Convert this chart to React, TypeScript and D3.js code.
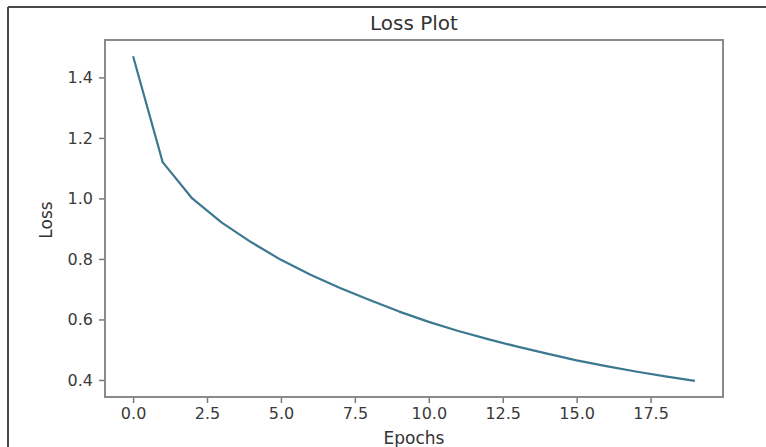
import React, { useEffect, useRef } from 'react';
import * as d3 from 'd3';

// loss per epoch
const epochs = [0, 1, 2, 3, 4, 5, 6, 7, 8, 9, 10, 11, 12, 13, 14, 15, 16, 17, 18, 19];
const losses = [1.47, 1.12, 1.0, 0.92, 0.855, 0.797, 0.748, 0.704, 0.664, 0.626, 0.592, 0.562, 0.535, 0.51, 0.487, 0.465, 0.446, 0.428, 0.412, 0.397];
const xTicks = [0, 2.5, 5, 7.5, 10, 12.5, 15, 17.5];
const yTicks = [0.4, 0.6, 0.8, 1.0, 1.2, 1.4];

const W = 766;
const H = 447;
const box = { left: 105, top: 40, right: 723, bottom: 397 };
const font = '"DejaVu Sans", sans-serif';

export default function App() {
  const ref = useRef<SVGSVGElement>(null);

  useEffect(() => {
    const svg = d3.select(ref.current);
    svg.selectAll('*').remove();

    // outer frame (top and left edges only visible)
    svg.append('line').attr('x1', 8).attr('x2', W).attr('y1', 7).attr('y2', 7)
      .attr('stroke', '#4a4a4a').attr('stroke-width', 2);
    svg.append('line').attr('x1', 8).attr('x2', 8).attr('y1', 7).attr('y2', H)
      .attr('stroke', '#4a4a4a').attr('stroke-width', 2);

    let x = d3.scaleLinear().domain([-0.95, 19.95]).range([box.left, box.right]);
    let y = d3.scaleLinear().domain([0.3437, 1.5237]).range([box.bottom, box.top]);

    let xAxis = d3.axisBottom(x).tickValues(xTicks).tickSize(6).tickPadding(5)
      .tickFormat(d3.format('.1f'));
    let yAxis = d3.axisLeft(y).tickValues(yTicks).tickSize(6).tickPadding(6)
      .tickFormat(d3.format('.1f'));

    let gx = svg.append('g')
      .attr('transform', 'translate(0,' + box.bottom + ')')
      .call(xAxis);
    let gy = svg.append('g')
      .attr('transform', 'translate(' + box.left + ',0)')
      .call(yAxis);

    [gx, gy].forEach(function(g) {
      g.select('.domain').remove();
      g.selectAll('line').attr('stroke', '#7a7a7a').attr('stroke-width', 1.5);
      g.selectAll('text')
        .attr('fill', '#3a3a3a')
        .style('font-family', font)
        .style('font-size', '16px');
    });

    let line = d3.line<number>()
      .x(function(d, i) { return x(epochs[i]); })
      .y(function(d) { return y(d); });

    svg.append('path')
      .datum(losses)
      .attr('d', line)
      .attr('fill', 'none')
      .attr('stroke', '#3d7891')
      .attr('stroke-width', 2.2)
      .attr('stroke-linejoin', 'round');

    // plot box
    svg.append('rect')
      .attr('x', box.left).attr('y', box.top)
      .attr('width', box.right - box.left).attr('height', box.bottom - box.top)
      .attr('fill', 'none').attr('stroke', '#8a8a8a').attr('stroke-width', 2);

    svg.append('text')
      .attr('x', (box.left + box.right) / 2).attr('y', 30)
      .attr('text-anchor', 'middle')
      .attr('fill', '#333')
      .style('font-family', font).style('font-size', '20px')
      .text('Loss Plot');

    svg.append('text')
      .attr('x', (box.left + box.right) / 2).attr('y', 444)
      .attr('text-anchor', 'middle')
      .attr('fill', '#333')
      .style('font-family', font).style('font-size', '17px')
      .text('Epochs');

    svg.append('text')
      .attr('transform', 'translate(52,220) rotate(-90)')
      .attr('text-anchor', 'middle')
      .attr('fill', '#333')
      .style('font-family', font).style('font-size', '17px')
      .text('Loss');
  }, []);

  return (
    <svg
      ref={ref}
      width={W}
      height={H}
      style={{ position: 'absolute', left: 0, top: 0, background: '#fff' }}
    ></svg>
  );
}
